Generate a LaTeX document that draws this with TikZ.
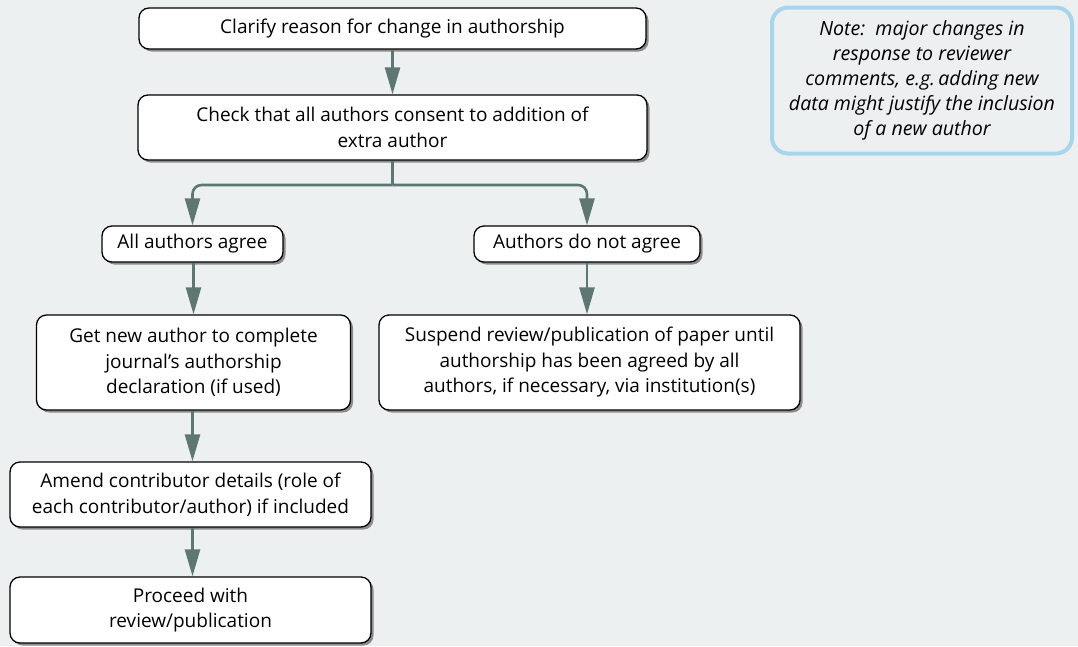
\documentclass[tikz,border=0pt]{standalone}
\usepackage{fontspec}
\setmainfont{Open Sans}
\usetikzlibrary{arrows.meta,shadows}
\definecolor{bgc}{HTML}{ECF0F1}
\definecolor{arrc}{HTML}{5F7772}
\definecolor{notec}{HTML}{A9D5EC}
\tikzset{
  box/.style={draw=black, line width=1.3pt, fill=white, rounded corners=10pt, align=center,
    font=\fontsize{19}{25.5}\selectfont, inner sep=0pt,
    drop shadow={shadow xshift=2.5pt, shadow yshift=-2.5pt, fill=black!55, opacity=0.8}},
  conn/.style={draw=arrc, line width=2.6pt, -{Triangle[width=15pt,length=27pt]}, arrc},
  notebox/.style={draw=notec, line width=4pt, fill=bgc, rounded corners=16pt, align=center,
    font=\fontsize{19.6}{25}\selectfont\itshape, inner sep=0pt}
}
\begin{document}
\begin{tikzpicture}[x=1pt,y=-1pt]
\path[fill=bgc] (0,0) rectangle (1078,646);
\useasboundingbox (0,0) rectangle (1078,646);
\node[box, minimum width=507pt, minimum height=41pt] (clar) at (392.5,28.5) {Clarify reason for change in authorship};
\node[box, minimum width=509pt, minimum height=65pt] (check) at (392.5,127.5) {Check that all authors consent to addition of\\extra author};
\node[box, minimum width=181pt, minimum height=36pt] (agree) at (192.5,244) {All authors agree};
\node[box, minimum width=226pt, minimum height=36pt] (nagree) at (587,244) {Authors do not agree};
\node[box, minimum width=314pt, minimum height=95pt] (getnew) at (193.5,362.5) {Get new author to complete\\journal’s authorship\\declaration (if used)};
\node[box, minimum width=421pt, minimum height=95pt] (susp) at (589.5,362.5) {Suspend review/publication of paper until\\authorship has been agreed by all\\authors, if necessary, via institution(s)};
\node[box, minimum width=361pt, minimum height=65pt] (amend) at (190.5,494.5) {Amend contributor details (role of\\each contributor/author) if included};
\node[box, minimum width=361pt, minimum height=66pt] (proc) at (190.5,610) {Proceed with\\review/publication};
\node[notebox, minimum width=300pt, minimum height=146pt] (note) at (922,80.5) {Note:\ \ major changes in\\response to reviewer\\comments, e.g.\,adding new\\data might justify the inclusion\\of a new author};
\coordinate (j) at (392.5,185);
\draw[conn] (clar) -- (check);
\draw[draw=arrc, line width=2.6pt] (check) -- (j);
\draw[conn, rounded corners=9pt] (j) -| (agree);
\draw[conn, rounded corners=9pt] (j) -| (nagree);
\draw[conn] (agree.south -| getnew.north) -- (getnew);
\draw[conn] (nagree.south -| nagree.center) -- (nagree.center |- susp.north);
\draw[conn] (getnew.south -| agree.center) -- (agree.center |- amend.north);
\draw[conn] (amend.south -| agree.center) -- (agree.center |- proc.north);
\end{tikzpicture}
\end{document}
